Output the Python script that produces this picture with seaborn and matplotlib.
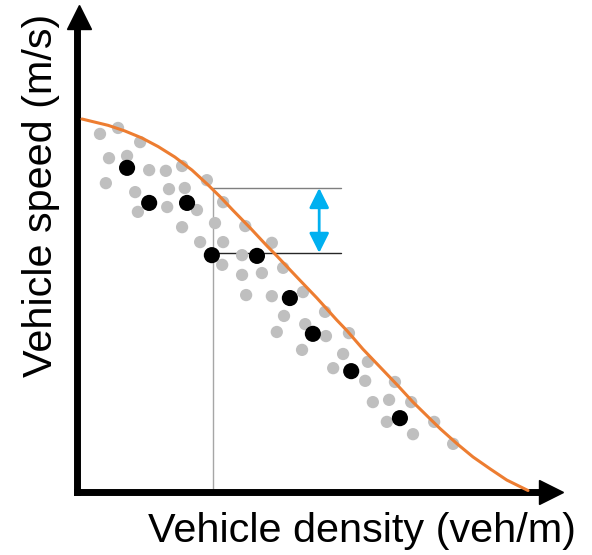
import matplotlib
matplotlib.use("Agg")
import matplotlib.pyplot as plt
import seaborn as sns
import pandas as pd

# ---- data (normalised density / speed) ----
grey_density = [0.051, 0.091, 0.140, 0.071, 0.111, 0.064, 0.160, 0.197, 0.233, 0.129,
                0.204, 0.239, 0.135, 0.200, 0.266, 0.288, 0.324, 0.233, 0.306, 0.373,
                0.273, 0.324, 0.432, 0.366, 0.322, 0.366, 0.410, 0.457, 0.375, 0.432,
                0.501, 0.459, 0.550, 0.443, 0.506, 0.552, 0.603, 0.499, 0.590, 0.645,
                0.568, 0.639, 0.705, 0.656, 0.692, 0.741, 0.687, 0.792, 0.745, 0.834]
grey_speed = [0.960, 0.976, 0.938, 0.895, 0.901, 0.828, 0.863, 0.861, 0.874, 0.804,
              0.812, 0.815, 0.751, 0.764, 0.756, 0.836, 0.777, 0.710, 0.721, 0.713,
              0.670, 0.670, 0.668, 0.635, 0.609, 0.582, 0.587, 0.601, 0.528, 0.525,
              0.536, 0.472, 0.483, 0.429, 0.450, 0.418, 0.426, 0.381, 0.370, 0.349,
              0.332, 0.298, 0.295, 0.241, 0.247, 0.241, 0.188, 0.188, 0.155, 0.129]

black_density = [0.111, 0.160, 0.244, 0.299, 0.399, 0.472, 0.523, 0.608, 0.716]
black_speed = [0.869, 0.775, 0.775, 0.635, 0.633, 0.520, 0.424, 0.324, 0.198]

curve_density = [0.011, 0.069, 0.106, 0.144, 0.180, 0.217, 0.255, 0.290, 0.317, 0.346,
                 0.384, 0.421, 0.443, 0.494, 0.532, 0.576, 0.599, 0.634, 0.672, 0.710,
                 0.745, 0.783, 0.805, 0.843, 0.878, 0.916, 0.953, 1.000]
curve_speed = [1.000, 0.983, 0.968, 0.949, 0.926, 0.898, 0.863, 0.824, 0.792, 0.755,
               0.708, 0.660, 0.633, 0.568, 0.520, 0.461, 0.432, 0.383, 0.335, 0.287,
               0.241, 0.196, 0.170, 0.129, 0.094, 0.062, 0.032, 0.004]

x_label = "Vehicle density (veh/m)"
y_label = "Vehicle speed (m/s)"

# marked gap (reference point / curve value)
ref_density = 0.302
ref_low = 0.641
ref_high = 0.815
bracket_end = 0.585
arrow_x = 0.537

grey_df = pd.DataFrame({"density": grey_density, "speed": grey_speed})
black_df = pd.DataFrame({"density": black_density, "speed": black_speed})
curve_df = pd.DataFrame({"density": curve_density, "speed": curve_speed})

sns.set_style("white")
plt.rcParams["font.family"] = ["Liberation Sans", "DejaVu Sans"]

W, H = 592, 555
fig = plt.figure(figsize=(W / 100, H / 100), dpi=100)
ax = fig.add_axes([77 / W, (H - 492) / H, (562 - 77) / W, (492 - 5) / H])
ax.set_xlim(0, 485 / 451)
ax.set_ylim(0, 487 / 373)

# reference lines
ax.plot([ref_density, ref_density], [0, ref_high], color="#a6a6a6", lw=1.0, zorder=1)
ax.plot([ref_density, bracket_end], [ref_high, ref_high], color="#7f7f7f", lw=1.0, zorder=1)
ax.plot([ref_density, bracket_end], [ref_low, ref_low], color="#262626", lw=1.0, zorder=1)

sns.scatterplot(data=grey_df, x="density", y="speed", ax=ax, color="#bfbfbf",
                s=78, edgecolor="none", linewidth=0, zorder=2)
sns.scatterplot(data=black_df, x="density", y="speed", ax=ax, color="black",
                s=135, edgecolor="none", linewidth=0, zorder=4)
sns.lineplot(data=curve_df, x="density", y="speed", ax=ax, sort=False,
             color="#ed7d31", lw=2.2, zorder=3)

# cyan double arrow
ax.annotate("", xy=(arrow_x, ref_high), xytext=(arrow_x, ref_low),
            arrowprops=dict(arrowstyle="<|-|>,head_length=1.2,head_width=0.6",
                            color="#00b0f0", lw=2.0, mutation_scale=10,
                            shrinkA=0, shrinkB=0), zorder=5)

# axes with arrow heads
ax.set_xticks([])
ax.set_yticks([])
ax.set_xlabel("")
ax.set_ylabel("")
for s in ["top", "right"]:
    ax.spines[s].set_visible(False)
for s in ["left", "bottom"]:
    ax.spines[s].set_linewidth(5)
    ax.spines[s].set_color("black")
ax.spines["bottom"].set_bounds(0, (545 - 77) / 451)
ax.spines["left"].set_bounds(0, (492 - 22) / 373)
ax.plot([(550.5 - 77) / 485], [0], marker=">", markersize=17, color="black",
        transform=ax.transAxes, clip_on=False, zorder=6)
ax.plot([1.5 / 485], [(492 - 16.5) / 487], marker="^", markersize=17, color="black",
        transform=ax.transAxes, clip_on=False, zorder=6)

fig.text(362.5 / W, (H - 542) / H, x_label, ha="center", va="baseline",
         fontsize=29.8, color="black")
fig.text(52 / W, 1 - 195 / H, y_label, ha="center", va="baseline", rotation=90,
         rotation_mode="anchor", fontsize=29.8, color="black")

fig.savefig("out.png", dpi=100)
